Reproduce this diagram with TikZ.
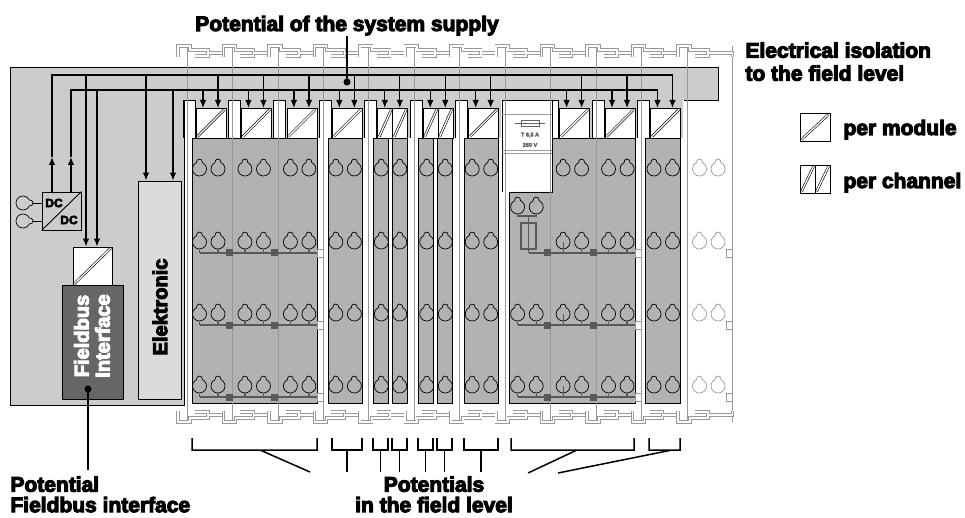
\documentclass[tikz,border=0pt]{standalone}
\usepackage{fontspec}
\setmainfont{Liberation Sans}[BoldFeatures={FakeBold=5}]
\usetikzlibrary{arrows.meta}
\definecolor{panelgray}{gray}{0.8}
\definecolor{elekgray}{gray}{0.86}
\definecolor{modgray}{gray}{0.7}
\definecolor{busgray}{gray}{0.4}
\definecolor{railgray}{gray}{0.6}
\definecolor{jumpgray}{gray}{0.35}
\tikzset{
	lbl/.style={font=\fontsize{21}{23}\selectfont\bfseries,inner sep=0pt},
	isobox/.style={draw,fill=white,line width=.8pt},
	isoline/.style={draw=black,double=white,double distance=1.3pt,line width=.6pt},
	railpat/.style={draw=railgray,double=white,double distance=1.6pt,line width=.85pt},
	jumper/.style={draw=jumpgray,line width=1.5pt},
	clamp/.pic={\draw[line width=.7pt,pic actions] (294.8:7) arc[start angle=294.8,end angle=605.2,radius=7] arc[start angle=167.6,end angle=372.4,radius=3] -- cycle;}
}
\begin{document}
\begin{tikzpicture}[x=1pt,y=-1pt,line width=.9pt,>={Latex[length=8pt,width=6.5pt]}]
	\useasboundingbox (0,0) rectangle (965,518);
	% coupler and bus band
	\fill[panelgray] (10,67) rectangle (718,100) (10,100) rectangle (184,405);
	\foreach \k in {0,...,6,8,9,10}{
		\pgfmathsetmacro\L{184+45.45*\k}
		\fill[panelgray] (\L+11,99) rectangle (\L+44.5,138);
		\draw[fill=white] (\L-1,138) -- (\L-1,100) -- (\L+11,100) -- (\L+11,138);
	}
	\draw (684,100) -- (718,100) -- (718,67) -- (10,67) -- (10,405) -- (184,405) -- (184,100);
	\draw[fill=white] (502,192) -- (502,100) -- (552,100) -- (552,192);
	% module bodies
	\draw[fill=modgray] (192,138) rectangle (317,403) (328,138) rectangle (362,403)
		(373,138) rectangle (388,403) (392,138) rectangle (407,403)
		(418,138) rectangle (433,403) (437,138) rectangle (452,403)
		(464,138) rectangle (498,403) (645,138) rectangle (680,403);
	\draw[fill=modgray] (509,403) |- (552,192) |- (635,138) -- (635,403) -- cycle;
	% rail
	\foreach \k in {0,...,12} \draw[railgray,line width=.8pt] ({187+45.45*\k},46) -- ({187+45.45*\k},422);
	\foreach \k in {0,...,11}{
		\pgfmathsetmacro\X{187+45.45*\k}
		\draw[railpat] (\X-9,57) |- (\X+3,46) |- (\X+21,50) |- (\X+8,56) (\X+21,53) -- (\X+36,53);
		\draw[railpat] (\X-9,411) |- (\X+3,422) |- (\X+21,418) |- (\X+8,412) (\X+21,415) -- (\X+36,415);
	}
	\draw[railpat] (723,53) -| (732.4,57) (723,415) -| (732.4,411);
	% fuse
	\draw[railgray,line width=.6pt] (502,114) -- (552,114) (502,150) -- (552,150) (502,153) -- (552,153);
	\draw[busgray,line width=.6pt] (515,123) -- (545,123) (521,120) rectangle (539,126);
	\node[font=\fontsize{5.5}{6}\selectfont\bfseries,text=busgray,inner sep=0pt] (fuseA) at (530,135) {T 6,3 A};
	\node[font=\fontsize{5.5}{6}\selectfont\bfseries,text=busgray,inner sep=0pt] (fuseV) at (530,145) {250 V};
	% isolation
	\foreach \k in {0,1,2,3,6,8,9,10}{
		\pgfmathsetmacro\L{184+45.45*\k}
		\draw[isobox] (\L+12,108) rectangle (\L+42,138);
		\draw[isoline] (\L+13.5,136.5) -- (\L+40.5,109.5);
	}
	\foreach \k in {4,5}{
		\pgfmathsetmacro\L{184+45.45*\k}
		\draw[isobox] (\L+12,108) rectangle (\L+27,138) (\L+27,108) rectangle (\L+42,138);
		\draw[isoline] (\L+13.5,136.5) -- (\L+25.5,109.5) (\L+28.5,136.5) -- (\L+40.5,109.5);
	}
	% clamps
	\foreach \k in {0,...,6,8,9,10} \foreach \r in {169,242,314,386}
		{\pic at ({184+45.45*\k+15.5},\r) {clamp}; \pic at ({184+45.45*\k+34},\r) {clamp};}
	\foreach \r in {169,242,314,386} {\pic[draw=railgray] at (699.5,\r) {clamp}; \pic[draw=railgray] at (718,\r) {clamp};}
	\foreach \r in {207,314,386} {\pic at (517.6,\r) {clamp}; \pic at (536.2,\r) {clamp};}
	% power jumpers
	\foreach \j in {253,325,397}{
		\draw[jumper] (199.5,\j) -- (317,\j);
		\foreach \x in {199.5,218,245,263.5,290.4,308.9,563.1,581.6,608.5,627}
			\draw[jumper,line width=1.2pt] (\x,\j-4) -- (\x,\j);
		\draw[jumper,line width=1.2pt] (563.1,\j-11) -- (563.1,\j);
		\foreach \x in {229.45,274.9,547.6,593.05}
			\fill[jumpgray] (\x,\j) +(-3.5,-3.5) rectangle +(3.5,3.5);
		\draw[railgray,fill=white,line width=.6pt] (317,\j-4) rectangle (323.5,\j+4) (635,\j-4) rectangle (641.5,\j+4) (726,\j-4) rectangle (732.4,\j+4);
	}
	\draw[jumper] (528.5,253) -- (635,253) (517.6,325) -- (635,325) (517.6,397) -- (635,397);
	\draw[jumper,line width=1.2pt] (517.6,321) -- (517.6,325) (536.2,321) -- (536.2,325) (517.6,393) -- (517.6,397) (536.2,393) -- (536.2,397);
	\draw[jumper,line width=1.2pt] (517.6,214) -- (517.6,216) -- (536.2,216) -- (536.2,214) (528.5,216) -- (528.5,253) (521,223) rectangle (536,249);
	% coupler
	\node[draw,minimum width=39pt,minimum height=38pt,inner sep=0pt] (dc) at (61.5,211) {};
	\draw (dc.south west) -- (dc.north east);
	\node[font=\fontsize{12}{12}\selectfont\bfseries,inner sep=0pt] (dcin) at (54,203) {DC};
	\node[font=\fontsize{12}{12}\selectfont\bfseries,inner sep=0pt] (dcout) at (69,220) {DC};
	\pic[rotate=-90] at (23,203) {clamp}; \pic[rotate=-90] at (23,221) {clamp};
	\draw (33,203) -- (42,203) (33,221) -- (42,221);
	\node[draw,fill=elekgray,minimum width=43pt,minimum height=218pt,inner sep=0pt] (elek) at (159.5,290) {};
	\node[lbl,rotate=90,font=\fontsize{20}{20}\selectfont\bfseries] (elektxt) at (160,307) {Elektronic};
	\node[isobox,minimum width=39pt,minimum height=38pt,inner sep=0pt] (fbiso) at (92.5,266) {};
	\draw[isoline] ([shift={(1.5,-1.5)}]fbiso.south west) -- ([shift={(-1.5,1.5)}]fbiso.north east);
	\node[draw,fill=busgray,minimum width=61pt,minimum height=114pt,inner sep=0pt] (fb) at (92.5,342) {};
	\node[lbl,rotate=90,text=white,align=center,font=\fontsize{20}{21}\selectfont\bfseries] (fbtxt) at (92,336) {Fieldbus\\Interface};
	\coordinate (fbdot) at (88,389);
	\fill (fbdot) circle[radius=3.5];
	% bus lines
	\begin{scope}[line width=1.3pt]
		\draw[->] (52,0 |- dc.north) -- (52,157);
		\draw[->] (71,0 |- dc.north) -- (71,157);
		\draw[->] (52,157) |- (672.5,75) -- (672.5,108);
		\draw[->] (71,157) |- (657.5,90) -- (657.5,108);
		\draw[->] (86,75) -- (86,0 |- fbiso.north);
		\draw[->] (97,90) -- (97,0 |- fbiso.north);
		\draw[->] (146,75) -- (146,0 |- elek.north);
		\draw[->] (173,90) -- (173,0 |- elek.north);
		\foreach \k in {0,...,6,8,9}{
			\pgfmathsetmacro\L{184+45.45*\k}
			\draw[->] (\L+19,90) -- (\L+19,108);
			\draw[->] (\L+34,75) -- (\L+34,108);
		}
	\end{scope}
	% labels
	\node[lbl,anchor=base] (sys) at (347,31) {Potential of the system supply};
	\coordinate (sysdot) at (347,82);
	\draw[line width=1.3pt] (sys.south) -- (sysdot);
	\fill (sysdot) circle[radius=3.5];
	\node[lbl,anchor=north west,align=left] (iso) at (745,42) {Electrical isolation\\to the field level};
	\draw[isobox] (800,113) rectangle (830,141);
	\draw[isoline] (801.5,139.5) -- (828.5,114.5);
	\node[lbl,anchor=base west] (permod) at (843,135) {per module};
	\draw[isobox] (800,165) rectangle (815,193) (815,165) rectangle (830,193);
	\draw[isoline] (801.5,191.5) -- (813.5,166.5) (816.5,191.5) -- (828.5,166.5);
	\node[lbl,anchor=base west] (perch) at (843,188) {per channel};
	\node[lbl,anchor=north west,align=left,font=\fontsize{21}{20.5}\selectfont\bfseries] (fblbl) at (10,476) {Potential\\Fieldbus interface};
	\draw[line width=1.3pt,shorten >=6pt] (fbdot) -- (fbdot |- fblbl.north);
	\node[lbl,anchor=north,align=center,font=\fontsize{21}{20.5}\selectfont\bfseries] (field) at (434,476) {Potentials\\in the field level};
	% brackets
	\begin{scope}[line width=1.5pt]
		\foreach \a/\b in {332/362,373/388,392/407,418/433,437/452,464/498}
			\draw (\a,438) |- (\b,450) -- (\b,438) ({(\a+\b)/2},450) -- ({(\a+\b)/2},472);
		\draw (192,438) |- (317,450) -- (317,438) (260,450) -- (310,472);
		\draw (511,438) |- (634,450) -- (634,438) (577,450) -- (528,473);
		\draw (649,438) |- (680,450) -- (680,438) (672,450) -- (558,473);
	\end{scope}
\end{tikzpicture}
\end{document}
